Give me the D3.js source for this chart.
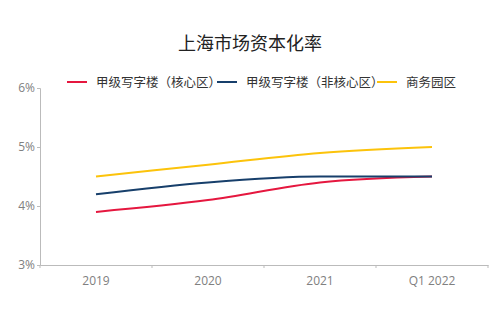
<!DOCTYPE html>
<html><head><meta charset="utf-8">
<script src="https://cdn.jsdelivr.net/npm/d3@7"></script>
<style>
html,body{margin:0;padding:0;background:#fff;}
svg{display:block;font-family:"Noto Sans CJK SC","Noto Sans",sans-serif;}
</style></head>
<body><svg id="c" width="500" height="333"></svg>
<script>
const categories = ["2019", "2020", "2021", "Q1 2022"];
const seriesNames = ["甲级写字楼（核心区）", "甲级写字楼（非核心区）", "商务园区"];
const coreValues = [3.9, 4.1, 4.4, 4.5];
const nonCoreValues = [4.2, 4.4, 4.5, 4.5];
const parkValues = [4.5, 4.7, 4.9, 5.0];
const yTicks = [3, 4, 5, 6];
const colors = ["#e5173f", "#173f6b", "#fcc30b"];
const title = "上海市场资本化率";

const series = [coreValues, nonCoreValues, parkValues].map((v, i) => ({name: seriesNames[i], values: v, color: colors[i]}));

const svg = d3.select("#c");
const L = 40, R = 488, T = 88, B = 265;
const x = d3.scaleBand().domain(categories).range([L, R]);
const y = d3.scaleLinear().domain([3, 6]).range([B, T]);

svg.append("text").attr("x", 250).attr("y", 50).attr("text-anchor", "middle")
  .attr("font-size", 18).attr("fill", "#222").text(title);

// legend
const legendX = [67, 217, 377];
series.forEach((s, i) => {
  const g = svg.append("g").attr("transform", `translate(${legendX[i]},82)`);
  g.append("line").attr("x1", 0).attr("x2", 20).attr("stroke", s.color).attr("stroke-width", 2);
  g.append("text").attr("x", 29).attr("y", 4.5).attr("font-size", 12.5).attr("fill", "#333").text(s.name);
});

// axes
const yAxis = svg.append("g").attr("transform", `translate(${L},0)`)
  .call(d3.axisLeft(y).tickValues(yTicks).tickFormat(d => d + "%").tickSize(3).tickPadding(2));
const xAxis = svg.append("g").attr("transform", `translate(0,${B})`)
  .call(d3.axisBottom(x).tickSize(0).tickPadding(11));
// boundary ticks between categories
svg.append("g").selectAll("line").data(d3.range(categories.length + 1)).join("line")
  .attr("x1", i => L + i * x.step()).attr("x2", i => L + i * x.step())
  .attr("y1", B).attr("y2", B + 3).attr("stroke", "#bbb");
[yAxis, xAxis].forEach(a => {
  a.select(".domain").attr("stroke", "#bbb");
  a.selectAll(".tick line").attr("stroke", "#bbb");
  a.selectAll("text").attr("fill", "#808080").attr("font-size", 12).attr("font-family", "'Open Sans', sans-serif");
});

const line = d3.line().x((d, i) => x(categories[i]) + x.bandwidth() / 2).y(d => y(d)).curve(d3.curveMonotoneX);
series.forEach(s => {
  svg.append("path").attr("d", line(s.values)).attr("fill", "none")
    .attr("stroke", s.color).attr("stroke-width", 2);
});
</script></body></html>
